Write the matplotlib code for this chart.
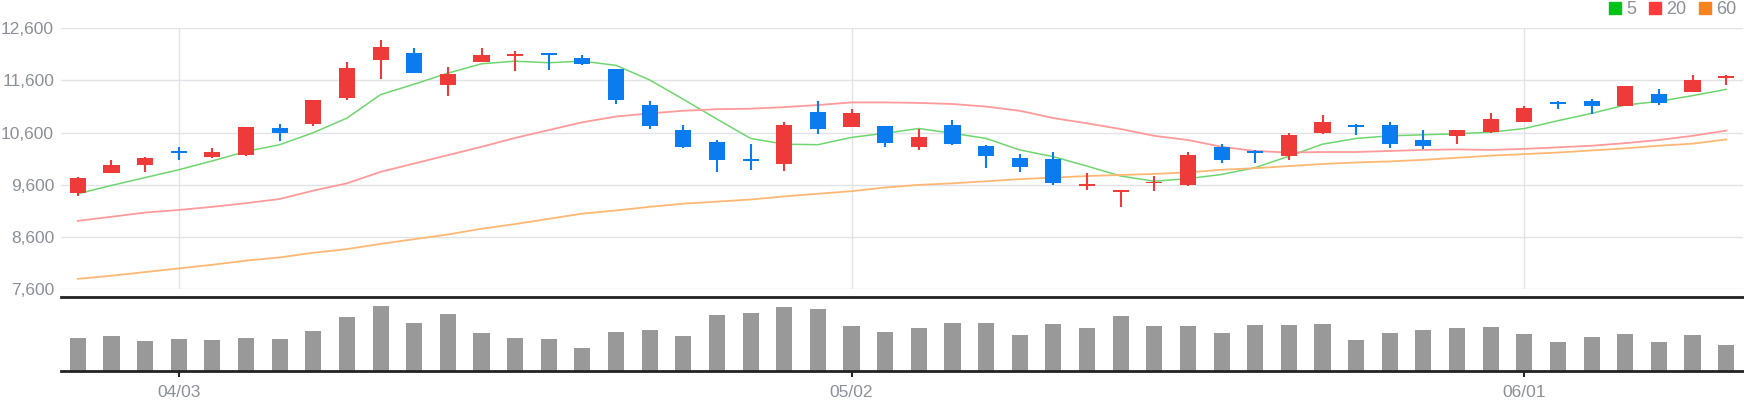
import numpy as np
import matplotlib.pyplot as plt
from matplotlib.lines import Line2D

plt.rcParams['font.family'] = ['Liberation Sans', 'DejaVu Sans']

# daily candles (price in won)
opens = [9450, 9830, 9980, 10220, 10140, 10170, 10690, 10770, 11270, 12000,
         12130, 11520, 11960, 12060, 12130, 12030, 11820, 11130, 10650, 10420,
         10070, 10000, 11000, 10710, 10730, 10330, 10750, 10350, 10120, 10100,
         9580, 9460, 9630, 9600, 10330, 10240, 10150, 10590, 10730, 10750,
         10460, 10540, 10610, 10810, 11170, 11210, 11110, 11340, 11380, 11650]
highs = [9750, 10080, 10140, 10330, 10310, 10710, 10770, 11230, 11950, 12380,
         12220, 11860, 12220, 12170, 12130, 12090, 11820, 11210, 10750, 10460,
         10380, 10810, 11210, 11050, 10730, 10670, 10840, 10370, 10190, 10230,
         9830, 9500, 9770, 10230, 10380, 10270, 10590, 10940, 10770, 10810,
         10650, 10650, 10980, 11110, 11210, 11250, 11500, 11440, 11710, 11710]
lows = [9390, 9830, 9850, 10080, 10120, 10150, 10450, 10720, 11230, 11630,
        11750, 11300, 11960, 11780, 11800, 11900, 11150, 10680, 10310, 9850,
        9890, 9870, 10580, 10710, 10330, 10260, 10370, 9930, 9850, 9590,
        9510, 9180, 9490, 9570, 10020, 10020, 10080, 10580, 10560, 10310,
        10280, 10390, 10590, 10810, 11050, 10960, 11110, 11130, 11380, 11510]
closes = [9730, 9980, 10120, 10210, 10230, 10710, 10600, 11230, 11840, 12240,
          11750, 11730, 12090, 12110, 12080, 11920, 11230, 10730, 10330, 10080,
          10060, 10750, 10680, 10980, 10410, 10520, 10390, 10160, 9950, 9640,
          9590, 9470, 9640, 10170, 10080, 10220, 10560, 10810, 10710, 10390,
          10350, 10650, 10860, 11070, 11150, 11110, 11500, 11170, 11610, 11670]

ma5 = [9430, 9590, 9740, 9890, 10060, 10240, 10370, 10600, 10880, 11330,
       11530, 11740, 11920, 11970, 11940, 11970, 11890, 11610, 11240, 10860,
       10490, 10380, 10370, 10510, 10590, 10680, 10590, 10490, 10270, 10140,
       9960, 9770, 9670, 9720, 9800, 9930, 10150, 10380, 10490, 10540,
       10560, 10580, 10610, 10680, 10830, 10970, 11130, 11200, 11310, 11430]
ma20 = [8910, 8990, 9070, 9120, 9180, 9250, 9330, 9490, 9630, 9850,
        10010, 10170, 10330, 10500, 10650, 10800, 10910, 10970, 11020, 11050,
        11060, 11090, 11130, 11180, 11180, 11170, 11150, 11100, 11020, 10880,
        10780, 10670, 10540, 10460, 10330, 10250, 10220, 10230, 10230, 10250,
        10270, 10280, 10270, 10290, 10320, 10350, 10400, 10460, 10540, 10640]
ma60 = [7800, 7860, 7930, 8000, 8070, 8150, 8210, 8300, 8370, 8470,
        8560, 8650, 8760, 8850, 8950, 9050, 9110, 9180, 9240, 9280,
        9320, 9380, 9430, 9480, 9550, 9600, 9630, 9670, 9710, 9740,
        9770, 9790, 9810, 9840, 9890, 9920, 9960, 10000, 10030, 10050,
        10080, 10120, 10160, 10190, 10220, 10260, 10300, 10350, 10390, 10470]

volume = [100, 106, 91, 97, 94, 100, 97, 121, 163, 196,
          145, 172, 115, 100, 97, 70, 118, 124, 106, 169,
          175, 193, 187, 136, 118, 130, 145, 145, 109, 142,
          130, 166, 136, 136, 115, 139, 139, 142, 94, 115,
          124, 130, 133, 112, 88, 103, 112, 88, 109, 79]

tick_idx = [3, 23, 43]
tick_labels = ['04/03', '05/02', '06/01']
price_ticks = [7600, 8600, 9600, 10600, 11600, 12600]

UP = '#ef3a3a'
DOWN = '#0b7cf0'
GRID = '#e2e3e8'
TXT = '#8a8f99'

o = np.array(opens); c = np.array(closes)
h = np.array(highs); l = np.array(lows)
x = np.arange(len(o))
colors = [UP if cc > oo else DOWN for oo, cc in zip(o, c)]

fig = plt.figure(figsize=(17.44, 4.0), dpi=100)
ax = fig.add_axes([61/1744, 1 - 289.3/400, 1682/1744, 261/400])
axv = fig.add_axes([61/1744, 1 - 371.3/400, 1682/1744, 74.6/400])

# price panel
ax.vlines(x, l, h, color=colors, linewidth=1.5, zorder=3)
body = np.maximum(np.abs(c - o), 35)
ax.bar(x, body, bottom=np.minimum(o, c), width=0.48, color=colors, zorder=3)
ax.plot(x, ma5, color='#6fd66f', lw=1.1, zorder=2)
ax.plot(x, ma20, color='#ff9a9a', lw=1.3, zorder=2)
ax.plot(x, ma60, color='#ffb874', lw=1.3, zorder=2)

ax.set_xlim(-0.5, len(x) - 0.5)
ax.set_ylim(7600, 12600)
ax.set_yticks(price_ticks)
ax.set_yticklabels([f'{v:,}' for v in price_ticks])
ax.set_xticks(tick_idx)
ax.set_xticklabels([])
ax.tick_params(length=0, labelsize=12.5, labelcolor=TXT, pad=5)
ax.grid(True, color=GRID, linewidth=1.0)
ax.set_axisbelow(True)
for s in ax.spines.values():
    s.set_visible(False)

# volume panel
axv.bar(x, volume, width=0.48, color='#999999')
axv.set_xlim(-0.5, len(x) - 0.5)
axv.set_ylim(0, 224)
axv.set_yticks([])
axv.set_xticks(tick_idx)
axv.set_xticklabels(tick_labels)
axv.tick_params(axis='x', length=4, width=1.5, color='#222222',
                labelsize=12.5, labelcolor=TXT, pad=6)
for side in ['left', 'right']:
    axv.spines[side].set_visible(False)
for side in ['top', 'bottom']:
    axv.spines[side].set_linewidth(2)
    axv.spines[side].set_color('#222222')

handles = [Line2D([], [], marker='s', ls='none', markersize=8.5, color=col)
           for col in ['#00c31a', '#ff3b3b', '#f5841f']]
fig.legend(handles, ['5', '20', '60'], loc='upper right',
           bbox_to_anchor=(1.002, 1.025), ncol=3, frameon=False,
           handlelength=0.8, handletextpad=0.25, columnspacing=0.6,
           fontsize=13, labelcolor=TXT, borderaxespad=0.2)

fig.savefig('out.png', dpi=100)
